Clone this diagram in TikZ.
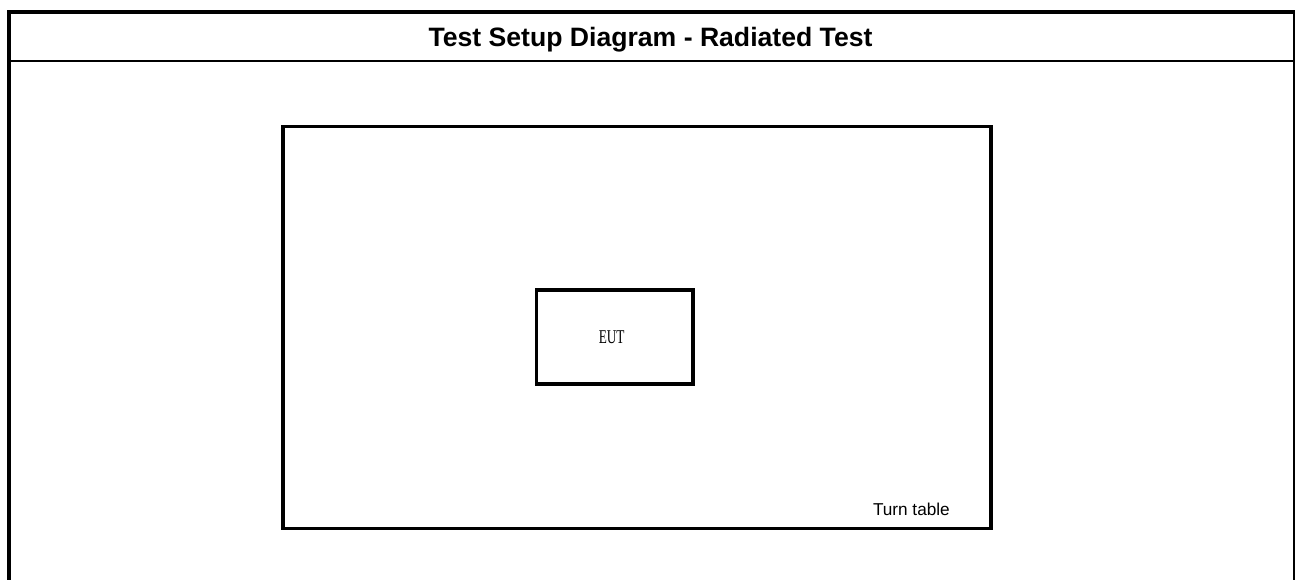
\documentclass[tikz,border=0pt]{standalone}
\usepackage{fontspec}
\setmainfont{Liberation Sans}
\newfontfamily\eutfont{Liberation Serif}
\usepackage{graphicx}
\begin{document}
\begin{tikzpicture}[x=1pt,y=-1pt,
  frameline/.style={line width=4pt},
  boxline/.style={draw,line width=3.4pt,inner sep=0pt},
  titletext/.style={font=\fontsize{26.6}{30}\selectfont\bfseries,inner sep=0pt,anchor=base},
  labeltext/.style={font=\fontsize{17.2}{20}\selectfont,inner sep=0pt,anchor=base east}]
\useasboundingbox (0,0) rectangle (1295,580);
\draw[frameline] (9,580) -- (9,12) -- (1295,12) -- (1295,580);
\coordinate (hl) at (9,61);
\coordinate (hr) at (1295,61);
\draw[line width=2.2pt] (hl) -- (hr);
\node[titletext] (title) at (650.5,47) {Test Setup Diagram - Radiated Test};
\node[boxline,minimum width=707.8pt,minimum height=402pt] (table) at (636.9,327.7) {};
\node[labeltext] (tlabel) at (950,515) {Turn table};
\node[boxline,minimum width=156.3pt,minimum height=93.8pt] (eut) at (614.85,336.9) {};
\node[inner sep=0pt,font=\eutfont\fontsize{19.5}{22}\selectfont] (euttext) at (611.7,337.3) {\scalebox{0.68}[1]{EUT}};
\end{tikzpicture}
\end{document}
